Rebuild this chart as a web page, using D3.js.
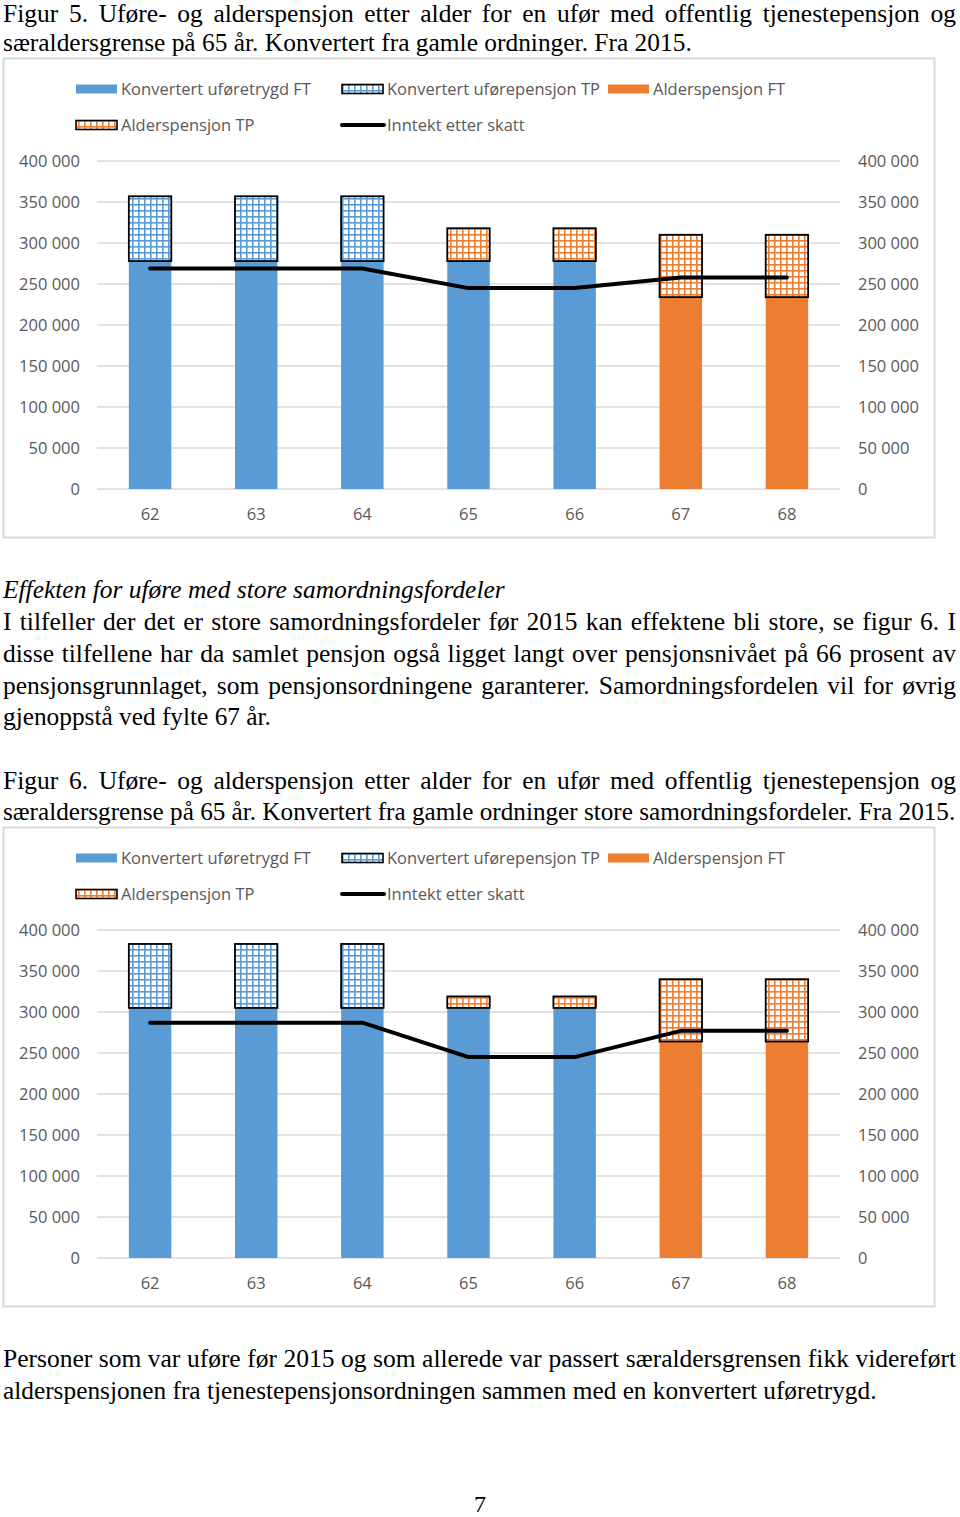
<!DOCTYPE html>
<html>
<head>
<meta charset="utf-8">
<script src="https://cdn.jsdelivr.net/npm/d3@7"></script>
<style>
html,body{margin:0;padding:0;background:#fff;}
svg{display:block;}
</style>
</head>
<body>
<svg id="page" width="960" height="1517"></svg>
<script>
// ---------- DATA ----------
const ages = ["62","63","64","65","66","67","68"];
const yTicks = [0,50000,100000,150000,200000,250000,300000,350000,400000];
const seriesNames = ["Konvertert uføretrygd FT","Konvertert uførepensjon TP","Alderspensjon FT","Alderspensjon TP","Inntekt etter skatt"];

// Figur 5
const uforetrygdFT_5    = [278000,278000,278000,278000,278000,0,0];
const uforepensjonTP_5  = [79000,79000,79000,0,0,0,0];
const alderspensjonFT_5 = [0,0,0,0,0,234000,234000];
const alderspensjonTP_5 = [0,0,0,40000,40000,76000,76000];
const inntekt_5         = [269000,269000,269000,245000,245000,258000,258000];

// Figur 6
const uforetrygdFT_6    = [305000,305000,305000,305000,305000,0,0];
const uforepensjonTP_6  = [78000,78000,78000,0,0,0,0];
const alderspensjonFT_6 = [0,0,0,0,0,264000,264000];
const alderspensjonTP_6 = [0,0,0,14000,14000,76000,76000];
const inntekt_6         = [287000,287000,287000,245000,245000,277000,277000];

// Text
const textLines = [
  {t:"Figur 5. Uføre- og alderspensjon etter alder for en ufør med offentlig tjenestepensjon og", x0:3, x1:956, y:22},
  {t:"særaldersgrense på 65 år. Konvertert fra gamle ordninger. Fra 2015.", x0:3, x1:692, y:51},
  {t:"Effekten for uføre med store samordningsfordeler", x0:3, x1:505, y:598, italic:true},
  {t:"I tilfeller der det er store samordningsfordeler før 2015 kan effektene bli store, se figur 6. I", x0:3, x1:956, y:630},
  {t:"disse tilfellene har da samlet pensjon også ligget langt over pensjonsnivået på 66 prosent av", x0:3, x1:956, y:662},
  {t:"pensjonsgrunnlaget, som pensjonsordningene garanterer. Samordningsfordelen vil for øvrig", x0:3, x1:956, y:694},
  {t:"gjenoppstå ved fylte 67 år.", x0:3, x1:271, y:725},
  {t:"Figur 6. Uføre- og alderspensjon etter alder for en ufør med offentlig tjenestepensjon og", x0:3, x1:956, y:789},
  {t:"særaldersgrense på 65 år. Konvertert fra gamle ordninger store samordningsfordeler. Fra 2015.", x0:3, x1:956, y:820},
  {t:"Personer som var uføre før 2015 og som allerede var passert særaldersgrensen fikk videreført", x0:3, x1:956, y:1367},
  {t:"alderspensjonen fra tjenestepensjonsordningen sammen med en konvertert uføretrygd.", x0:3, x1:877, y:1399}
];

// ---------- RENDER ----------
const svg = d3.select("#page");
svg.append("rect").attr("width",960).attr("height",1517).attr("fill","#fff");

const BLUE="#5b9bd5", ORANGE="#ed7d31", GRID="#d9d9d9", LABEL="#595959";
const CHARTFONT="'Open Sans', 'Noto Sans', sans-serif";
const SERIF="'Liberation Serif','DejaVu Serif',serif";
const CF = 16.5;

const defs = svg.append("defs");
function gridPattern(id,color){
  const p = defs.append("pattern").attr("id",id).attr("patternUnits","userSpaceOnUse")
    .attr("width",6).attr("height",6);
  p.append("rect").attr("width",6).attr("height",6).attr("fill","#fff");
  p.append("rect").attr("x",0).attr("y",0).attr("width",1.6).attr("height",6).attr("fill",color);
  p.append("rect").attr("x",0).attr("y",0).attr("width",6).attr("height",1.6).attr("fill",color);
}
gridPattern("hatchBlue",BLUE);
gridPattern("hatchOrange",ORANGE);

// Text lines
textLines.forEach(L=>{
  const t = svg.append("text").attr("x",0).attr("y",0)
    .attr("font-family",SERIF).attr("font-size",25.5)
    .attr("font-style",L.italic?"italic":"normal")
    .attr("fill","#000").text(L.t);
  const nat = t.node().getComputedTextLength();
  const target = L.x1 - L.x0;
  const spaces = (L.t.match(/ /g)||[]).length;
  if (nat <= target) {
    t.attr("transform",`translate(${L.x0},${L.y})`);
    if (spaces>0) t.attr("word-spacing",(target-nat)/spaces);
  } else {
    t.attr("transform",`translate(${L.x0},${L.y}) scale(${target/nat},1)`);
  }
});
svg.append("text").attr("x",480).attr("y",1512).attr("text-anchor","middle")
  .attr("font-family",SERIF).attr("font-size",24).attr("fill","#000").text("7");

function drawChart(oy, ft, utp, afT, atp, inntekt){
  const g = svg.append("g").attr("transform",`translate(0,${oy})`);
  g.append("rect").attr("x",3.5).attr("y",58.5).attr("width",931).attr("height",479)
    .attr("fill","#fff").attr("stroke",GRID).attr("stroke-width",2);

  const x = d3.scaleBand().domain(ages).range([97,840]).paddingInner(0.6).paddingOuter(0.3);
  const y = d3.scaleLinear().domain([0,400000]).range([489,161]);

  // gridlines
  g.append("g").selectAll("line").data(yTicks).join("line")
    .attr("x1",97).attr("x2",840).attr("y1",d=>y(d)).attr("y2",d=>y(d))
    .attr("stroke",GRID).attr("stroke-width",1.3);

  // axes labels
  const fmt = d=> d3.format(",")(d).replace(/,/g," ");
  const yl = d3.axisLeft(y).tickValues(yTicks).tickFormat(fmt).tickSize(0).tickPadding(0);
  const yr = d3.axisRight(y).tickValues(yTicks).tickFormat(fmt).tickSize(0).tickPadding(0);
  const gl = g.append("g").attr("transform","translate(80,0)").call(yl);
  const gr = g.append("g").attr("transform","translate(858,0)").call(yr);
  const xa = d3.axisBottom(x).tickSize(0).tickPadding(0);
  const gx = g.append("g").attr("transform","translate(0,514)").call(xa);
  [gl,gr,gx].forEach(a=>{
    a.select(".domain").remove();
    a.selectAll("text").attr("font-family",CHARTFONT).attr("font-size",CF).attr("fill",LABEL);
  });
  gx.selectAll("text").attr("dy","0.35em");

  // stacked bars
  const rows = ages.map((a,i)=>({age:a, ft:ft[i], utp:utp[i], aft:afT[i], atp:atp[i]}));
  const stack = d3.stack().keys(["ft","utp","aft","atp"])(rows);
  const fills = {ft:BLUE, utp:"url(#hatchBlue)", aft:ORANGE, atp:"url(#hatchOrange)"};
  const strokes = {ft:"none", utp:"#000", aft:"none", atp:"#000"};
  stack.forEach(s=>{
    g.append("g").selectAll("rect").data(s.filter(d=>d[1]-d[0]>0)).join("rect")
      .attr("x",d=>x(d.data.age)).attr("width",x.bandwidth())
      .attr("y",d=>y(d[1])).attr("height",d=>y(d[0])-y(d[1]))
      .attr("fill",fills[s.key]).attr("stroke",strokes[s.key]).attr("stroke-width",1.8);
  });

  // line
  const line = d3.line().x((d,i)=>x(ages[i])+x.bandwidth()/2).y(d=>y(d));
  g.append("path").datum(inntekt).attr("d",line).attr("fill","none")
    .attr("stroke","#000").attr("stroke-width",4).attr("stroke-linejoin","round").attr("stroke-linecap","round");

  // legend
  const leg = g.append("g");
  const items = [
    {name:seriesNames[0], x:76, y:89, type:"rect", fill:BLUE, stroke:"none"},
    {name:seriesNames[1], x:342, y:89, type:"rect", fill:"url(#hatchBlue)", stroke:"#000"},
    {name:seriesNames[2], x:608, y:89, type:"rect", fill:ORANGE, stroke:"none"},
    {name:seriesNames[3], x:76, y:125, type:"rect", fill:"url(#hatchOrange)", stroke:"#000"},
    {name:seriesNames[4], x:342, y:125, type:"line"}
  ];
  items.forEach(it=>{
    if(it.type==="rect"){
      leg.append("rect").attr("x",it.x).attr("y",it.y-4.5).attr("width",41).attr("height",9)
        .attr("fill",it.fill).attr("stroke",it.stroke).attr("stroke-width",1.6);
    } else {
      leg.append("line").attr("x1",it.x).attr("x2",it.x+42).attr("y1",it.y).attr("y2",it.y)
        .attr("stroke","#000").attr("stroke-width",4).attr("stroke-linecap","round");
    }
    leg.append("text").attr("x",it.x+45).attr("y",it.y).attr("dy","0.35em")
      .attr("font-family",CHARTFONT).attr("font-size",CF).attr("fill",LABEL).text(it.name);
  });
}

drawChart(0, uforetrygdFT_5, uforepensjonTP_5, alderspensjonFT_5, alderspensjonTP_5, inntekt_5);
drawChart(769, uforetrygdFT_6, uforepensjonTP_6, alderspensjonFT_6, alderspensjonTP_6, inntekt_6);
</script>
</body>
</html>
